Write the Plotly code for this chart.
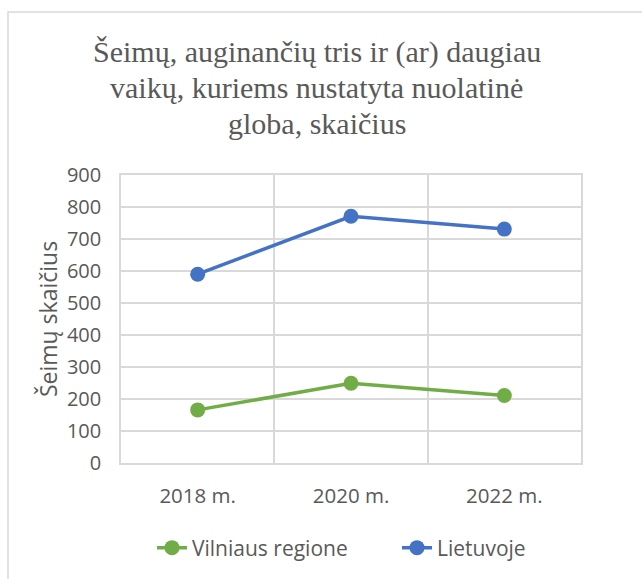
import plotly.graph_objects as go

categories = ["2018 m.", "2020 m.", "2022 m."]
vilniaus = [166, 249, 211]
lietuvoje = [590, 771, 731]
y_ticks = [0, 100, 200, 300, 400, 500, 600, 700, 800, 900]
title_lines = ["Šeimų, auginančių tris ir (ar) daugiau",
               "vaikų, kuriems nustatyta nuolatinė",
               "globa, skaičius"]

W, H = 642, 579
L, R, T, B = 121, 61, 175, 116
pw, ph = W - L - R, H - T - B

x = list(range(len(categories)))
fig = go.Figure()
fig.add_trace(go.Scatter(x=x, y=vilniaus, name="Vilniaus regione", mode="lines+markers",
                         line=dict(color="#70AD47", width=3.5), marker=dict(size=15, color="#70AD47"),
                         legend="legend"))
fig.add_trace(go.Scatter(x=x, y=lietuvoje, name="Lietuvoje", mode="lines+markers",
                         line=dict(color="#4472C4", width=3.5), marker=dict(size=15, color="#4472C4"),
                         legend="legend2"))

grid = "#D9D9D9"
annotations = []
for i, line in enumerate(title_lines):
    py = 52 + 35.5 * i
    annotations.append(dict(text=line, x=0.425, xref="paper", xanchor="center",
                            y=(H - B - py) / ph, yref="paper", yanchor="middle", showarrow=False,
                            font=dict(family="Liberation Serif", size=30, color="#595959")))

legend_common = dict(orientation="h", xanchor="left", y=1 - 548 / H, yanchor="middle",
                     yref="container", xref="container", font=dict(size=21))

fig.update_layout(
    width=W, height=H, margin=dict(l=L, r=R, t=T, b=B, autoexpand=False),
    paper_bgcolor="white", plot_bgcolor="white",
    font=dict(family="Open Sans", color="#595959", size=20),
    annotations=annotations,
    xaxis=dict(range=[-0.5, len(categories) - 0.5], tickvals=x, ticktext=categories, showgrid=False,
               zeroline=False, showline=True, linecolor=grid, linewidth=1.5, mirror=True,
               ticks="", ticklabelstandoff=14, tickfont=dict(size=20.5),
               minor=dict(tickvals=[i - 0.5 for i in range(len(categories) + 1)], showgrid=True,
                          gridcolor=grid, gridwidth=1.5)),
    yaxis=dict(range=[0, 900], tickvals=y_ticks, showgrid=True, gridcolor=grid, gridwidth=1.5,
               zeroline=False, showline=True, linecolor=grid, linewidth=1.5, mirror=True,
               ticks="", ticklabelstandoff=14, tickfont=dict(size=20),
               title=dict(text="Šeimų skaičius", font=dict(size=23), standoff=3)),
    legend=dict(x=152 / W, **legend_common),
    legend2=dict(x=397 / W, **legend_common),
    showlegend=True,
    shapes=[dict(type="rect", xref="paper", yref="paper",
                 x0=(8 - L) / pw, x1=(W + 5 - L) / pw,
                 y0=(H - B - (H + 5)) / ph, y1=(H - B - 12) / ph,
                 line=dict(color=grid, width=1.5), fillcolor="rgba(0,0,0,0)", layer="below")],
)
fig.write_html("out.html", config={"displayModeBar": False},
               post_script="document.body.style.margin='0';document.body.style.padding='0';")
